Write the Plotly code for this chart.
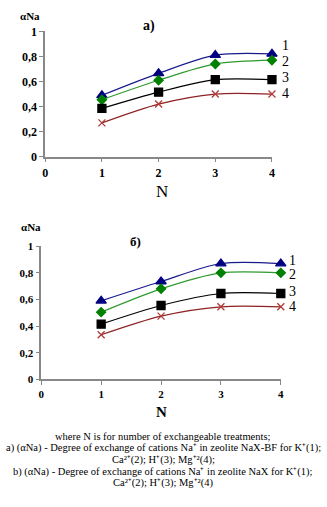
import plotly.graph_objects as go

N = [1, 2, 3, 4]
series_names = ["1", "2", "3", "4"]

# Chart a) NaX-BF
a_K = [0.49, 0.665, 0.81, 0.82]
a_Ca = [0.455, 0.61, 0.74, 0.77]
a_H = [0.385, 0.515, 0.615, 0.615]
a_Mg = [0.27, 0.42, 0.50, 0.50]

# Chart b) NaX
b_K = [0.59, 0.735, 0.87, 0.87]
b_Ca = [0.505, 0.68, 0.80, 0.80]
b_H = [0.415, 0.555, 0.645, 0.645]
b_Mg = [0.335, 0.475, 0.545, 0.545]

y_ticks = [0, 0.2, 0.4, 0.6, 0.8, 1]
x_ticks = [0, 1, 2, 3, 4]

caption = [
    "where N is for number of exchangeable treatments;",
    "a) (αNa) - Degree of exchange of cations Na⁺ in zeolite NaX-BF for K⁺(1);",
    "Ca²⁺(2); H⁺(3); Mg⁺²(4);",
    "b) (αNa) - Degree of exchange of cations Na⁺ in zeolite NaX for K⁺(1);",
    "Ca²⁺(2); H⁺(3); Mg⁺²(4)",
]

styles = [
    dict(line="#1a1a8c", marker="#000080", symbol="triangle-up", size=9),
    dict(line="#2e9a2e", marker="#008000", symbol="diamond", size=7),
    dict(line="#000000", marker="#000000", symbol="square", size=8),
    dict(line="#8f2222", marker="#b03a3a", symbol="x-thin-open", size=7),
]

SERIF = "Liberation Serif, Times New Roman, serif"
W, H = 327, 507

fig = go.Figure()

def add_chart(data, xa, ya, label_shifts, label_dx):
    for vals, st, nm, dy in zip(data, styles, series_names, label_shifts):
        fig.add_trace(go.Scatter(
            x=N, y=vals, mode="lines+markers", xaxis=xa, yaxis=ya,
            line=dict(color=st["line"], width=1.2, shape="spline", smoothing=0.8),
            marker=dict(symbol=st["symbol"], size=st["size"], color=st["marker"],
                        line=dict(color=st["marker"], width=1.3)),
            cliponaxis=False, showlegend=False, hoverinfo="skip"))
        fig.add_annotation(x=N[-1], y=vals[-1], xref=xa, yref=ya, text=nm,
                           showarrow=False, xanchor="left", yanchor="middle",
                           xshift=label_dx, yshift=dy,
                           font=dict(family=SERIF, size=14, color="#000"))

add_chart([a_K, a_Ca, a_H, a_Mg], "x", "y", [8, -1, 2, 1], 8)
add_chart([b_K, b_Ca, b_H, b_Mg], "x2", "y2", [3, -2, 2, 0], 6)

def yaxis(domain, size, anchor):
    return dict(domain=domain, range=[0, 1], tickvals=y_ticks, showgrid=False,
                zeroline=False, showline=True, linecolor="#888", linewidth=1.5,
                ticks="outside", ticklen=4, tickcolor="#888", anchor=anchor,
                tickfont=dict(family=SERIF, size=size, color="#000", weight="bold"))

def xaxis(domain, size, anchor):
    return dict(domain=domain, range=[0, 4], tickvals=x_ticks, showgrid=False,
                zeroline=False, showline=True, linecolor="#888", linewidth=1.5,
                ticks="outside", ticklen=4, tickcolor="#888", anchor=anchor,
                tickfont=dict(family=SERIF, size=size, color="#000", weight="bold"))

def px(xp):
    return xp / W

def py(yp):
    return (H - yp) / H

fig.update_layout(
    width=W, height=H, margin=dict(l=0, r=0, t=0, b=0),
    paper_bgcolor="white", plot_bgcolor="white",
    separators=", ",
    xaxis=xaxis([px(43), px(274)], 12, "y"),
    yaxis=yaxis([py(154), py(25)], 12, "x"),
    xaxis2=xaxis([px(39), px(283)], 11, "y2"),
    yaxis2=yaxis([py(383), py(246)], 11, "x2"),
)

def paper_text(text, xp, yp, size, bold=False, xanchor="center"):
    fig.add_annotation(xref="paper", yref="paper", x=px(xp), y=py(yp), text=text,
                       showarrow=False, xanchor=xanchor, yanchor="middle",
                       font=dict(family=SERIF, size=size, color="#000",
                                 weight="bold" if bold else "normal"))

# axis labels and titles
paper_text("αNa", 28, 9, 11, bold=True)
paper_text("a)", 149, 20, 14, bold=True)
paper_text("N", 162, 190, 17)
paper_text("αNa", 29, 226, 11, bold=True)
paper_text("б)", 135, 241, 13, bold=True)
paper_text("N", 161, 416, 15, bold=True)

cap_y = [442, 454, 466, 478, 490]
for line, yp in zip(caption, cap_y):
    paper_text(line, 163, yp, 10.5)

fig.write_html("out.html", config={"displayModeBar": False},
               post_script="document.body.style.margin='0';")
